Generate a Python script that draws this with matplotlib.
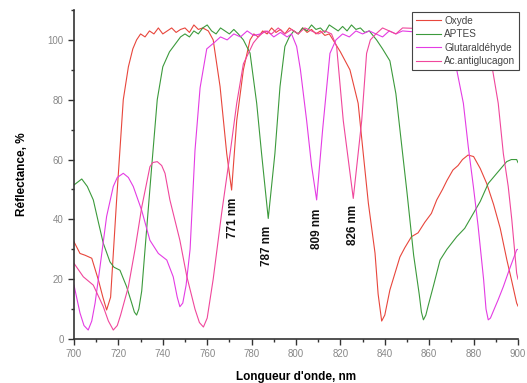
import matplotlib
matplotlib.use("Agg")
import matplotlib.pyplot as plt
from matplotlib.ticker import MultipleLocator

plt.rcParams['font.family'] = ['Liberation Sans', 'DejaVu Sans']

# --- data (wavelength nm, reflectance %) ---
oxyde_wl = [700, 702.7, 705, 708, 711, 713, 714.7, 716.5, 719.2, 722.2, 724.5, 726.5, 728.2,
            730, 732, 734, 736, 738, 740, 742, 744, 746, 748, 750, 752, 754, 756, 758, 760.5,
            762.7, 765.8, 768.8, 771, 773.3, 776.3, 779.3, 781, 783, 785, 787, 789, 791, 793,
            795, 797, 799, 801, 803, 805, 807, 809, 811, 813, 815, 816.7, 820, 824.3, 828,
            830.3, 832.6, 835.6, 837, 838.6, 840, 842.3, 846.8, 849, 852, 855, 858, 861, 863.4, 866,
            868, 870.7, 873, 875, 877.5, 880, 883, 885.9, 889, 892, 895, 897, 899.4, 900]
oxyde_r = [32.5, 28.6, 28, 27, 19.7, 14, 9.7, 14, 46.5, 80, 91, 97, 100,
           102, 101, 103, 102, 104, 102, 103, 104, 102.5, 103.5, 104, 102.5, 105, 103.5, 104, 103,
           100, 84.4, 62, 49.8, 73, 90, 100, 102, 101, 103, 102, 104, 102.5, 103.5,
           102, 104, 103, 102, 104, 102.5, 103.5, 102, 103, 101.5, 102, 100, 96, 90, 78.8,
           62, 45.4, 28.7, 15, 6, 8, 16.4, 27.4, 30.5, 34.2, 35.5, 39, 42, 46.5, 50,
           53, 56.5, 58, 60, 61.5, 61, 57, 52, 45, 37, 26.4, 20, 12, 11]

aptes_wl = [700, 703.5, 706, 708.7, 711, 713.2, 716.2, 718, 720.7, 723.7, 726, 727.2, 728.2,
            729.2, 730.5, 732, 735, 737.5, 740, 743, 746, 748, 750, 752, 754, 756, 758, 760,
            762, 764, 766, 768, 770, 772, 774, 776.3, 779.3, 782.3, 784.5, 787.5, 790.5, 792.8,
            795, 797, 799, 801, 803, 805, 807, 809, 811, 813, 815, 817, 819, 821, 823, 825, 827,
            829, 831, 833, 836.3, 839, 842.3, 845, 850, 853, 855.5, 856.5, 857.4, 858.5, 859.5,
            862, 864.9, 868, 872.4, 876, 879.9, 883, 886.6, 890, 894.9, 897, 899.4, 900]
aptes_r = [51.5, 53.5, 51, 46.5, 39, 32, 25.8, 24, 23, 17.5, 12, 9, 8,
           10, 16, 30, 57.6, 80, 91, 96, 99, 101, 102, 101, 103, 102, 104, 105,
           103, 102, 104, 103, 102, 103.5, 102, 100, 95.6, 78.8, 62, 40.3, 62, 84.4,
           97.8, 101, 103, 102, 104, 103, 105, 103.5, 104, 102.5, 105, 104, 103, 104.5, 103, 105, 103.5,
           104, 102.5, 103, 100, 97, 93, 82, 49, 28, 15, 9, 6.4, 8, 11,
           18, 26.4, 30, 34.2, 37, 42, 46, 52, 55, 59.3, 60, 60, 59]

gluta_wl = [700, 702.7, 704.5, 706.4, 708, 709.5, 711.7, 714.7, 717.7, 719.5, 722.2, 724.5,
            726.7, 730.5, 734.2, 738, 741.8, 744.7, 746.5, 747.7, 749, 750.5, 752.3, 754.5, 756.8,
            759.8, 763, 766, 769, 772, 775, 778, 781, 784, 787, 790, 793, 796, 798, 800.3, 802,
            804.8, 807, 809.3, 812, 815.3, 818, 821, 824, 827, 830, 833, 836, 839, 842, 845, 848,
            865, 868, 872.4, 875.4, 877.6, 879.9, 882, 884.5, 885.6, 886.6, 887.6, 889, 891,
            893.4, 896, 899.4, 900]
gluta_r = [18, 8.7, 4.5, 3, 6, 12, 24, 41, 51, 54, 55.4, 54,
           51, 43, 33, 28.6, 26.4, 20.8, 14, 10.8, 12, 18, 30, 63, 84,
           97, 99, 101, 100, 102, 101, 103, 101.5, 102, 103, 101, 102.5, 101, 102, 97.8, 90,
           73, 58, 46.5, 70, 95.5, 100, 102, 101, 103, 102, 103, 102, 101, 103, 102, 103,
           102, 97, 90, 78.8, 64.3, 51, 38, 20, 10, 6.4, 7, 9.5, 13,
           17.5, 23, 29.8, 30]

anti_wl = [700, 704.2, 708.7, 713.2, 715.5, 717.7, 719.5, 721, 724.5, 727.5, 730.5, 734.2,
           735.5, 737.5, 739.5, 741, 743.2, 747.7, 750.8, 754.5, 756.5, 758.3, 760, 762.7,
           766.5, 770.3, 773.3, 776.3, 780.8, 783, 786, 789, 792, 795, 798, 801, 804, 807, 810,
           813, 816, 818.3, 821.3, 825.8, 829.6, 831.8, 833.5, 836, 839, 842, 845, 848, 885,
           888.1, 891.1, 893.4, 895.6, 897.2, 899.4, 900]
anti_r = [25.3, 20.8, 18, 10.8, 6, 3, 4.5, 8, 17.5, 30, 44, 57.6,
          59, 59.3, 58, 55.4, 46.5, 33, 21, 10, 5.5, 4, 7, 20,
          42, 62, 78.8, 92, 99, 101, 103, 102, 104, 102, 103.5, 102, 104, 103, 102,
          103, 102, 97.8, 73, 47, 73, 95.5, 100, 102, 104, 103, 102, 104, 103,
          92, 78.8, 62, 51, 40, 22, 20]

series = [("Oxyde", oxyde_wl, oxyde_r, "#e8463c"),
          ("APTES", aptes_wl, aptes_r, "#3c9a3c"),
          ("Glutaraldéhyde", gluta_wl, gluta_r, "#e43ce4"),
          ("Ac.antiglucagon", anti_wl, anti_r, "#f0479c")]

peak_labels = ["771 nm", "787 nm", "809 nm", "826 nm"]
peak_x = [771.6, 786.8, 809.3, 825.8]
peak_y = [40.5, 31, 37, 38]

fig = plt.figure(figsize=(5.27, 3.83), dpi=100)
ax = fig.add_axes([0.1404, 0.1149, 0.8425, 0.859])

for name, wl, r, col in series:
    ax.plot(wl, r, color=col, lw=0.8, label=name)

for lab, x, y in zip(peak_labels, peak_x, peak_y):
    ax.text(x, y, lab, rotation=90, ha="center", va="center",
            fontsize=8.5, fontweight="bold", color="#111111")

ax.set_xlim(700, 900)
ax.set_ylim(0, 110)
ax.xaxis.set_major_locator(MultipleLocator(20))
ax.xaxis.set_minor_locator(MultipleLocator(10))
ax.yaxis.set_major_locator(MultipleLocator(20))
ax.yaxis.set_minor_locator(MultipleLocator(10))
ax.tick_params(which="major", direction="out", length=4, width=1, labelsize=7,
               labelcolor="#888888", color="#333333")
ax.tick_params(which="minor", direction="out", length=2.5, width=1, color="#333333")
for s in ["top", "right"]:
    ax.spines[s].set_visible(False)
for s in ["left", "bottom"]:
    ax.spines[s].set_linewidth(1.2)
    ax.spines[s].set_color("#333333")

ax.set_xlabel("Longueur d'onde, nm", fontsize=8.5, fontweight="bold", labelpad=8)
ax.set_ylabel("Réflectance, %", fontsize=8.5, fontweight="bold", labelpad=14)

leg = ax.legend(loc="upper right", bbox_to_anchor=(1.003, 0.995), fontsize=7.2,
                frameon=True, fancybox=False, framealpha=1, edgecolor="#444444",
                handlelength=2.5, handletextpad=0.35, labelspacing=0.35,
                borderpad=0.4, borderaxespad=0)
leg.get_frame().set_linewidth(0.8)
for t in leg.get_texts():
    t.set_color("#444444")

fig.savefig("out.png", dpi=100)
